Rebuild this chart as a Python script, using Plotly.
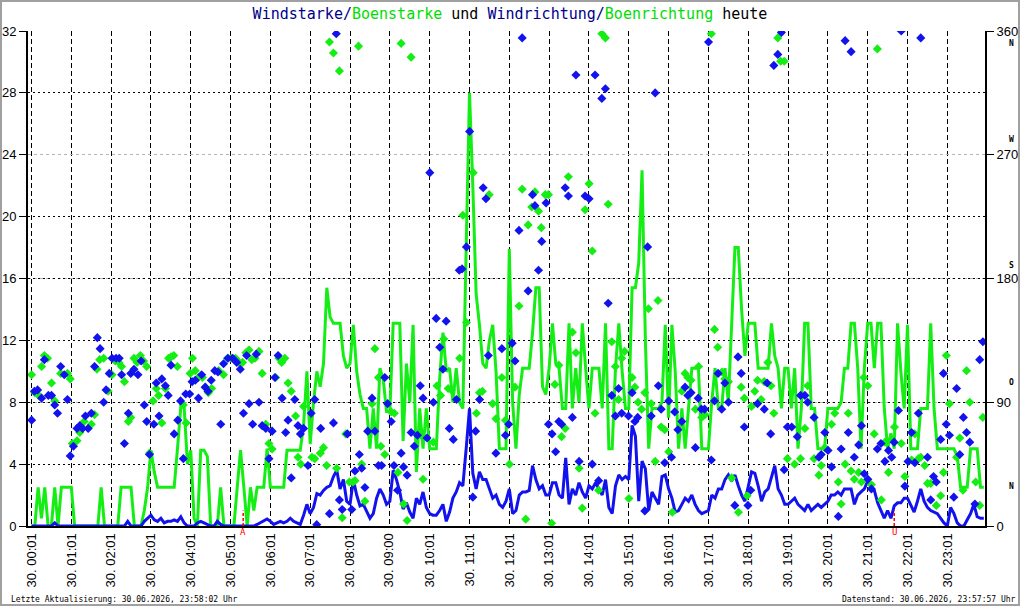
import plotly.graph_objects as go

# ---------------- data ----------------
day_label = "30."
tick_hhmm = ["00:01", "01:01", "02:01", "03:01", "04:01", "05:01", "06:01", "07:01",
             "08:01", "09:00", "10:01", "11:01", "12:01", "13:01", "14:01", "15:01",
             "16:01", "17:01", "18:01", "19:01", "20:01", "21:01", "22:01", "23:01"]
sunrise = "05:20"
sunset = "21:41"

# gust speed (m/s), 5-minute samples, one row per hour (hh:01, hh:06, ...)
gust_rows = [
    [0, 0, 2.5, 0.5, 2.5, 0, 0, 2.5, 0, 2.5, 2.5, 2.5],
    [2.5, 0, 0, 0, 0, 0, 0, 0, 0, 2.5, 0, 0],
    [0, 0, 0, 2.5, 2.5, 2.5, 2.5, 0, 0, 0, 1, 2.5],
    [4.9, 3.5, 2.5, 2.5, 2.5, 2.5, 2.5, 2.5, 5, 7.7, 7.7, 4],
    [4.9, 0.5, 0, 4.9, 4.9, 4.5, 0, 0, 0, 2.5, 0, 0],
    [0, 0, 2.5, 4.9, 2.5, 0, 2.5, 1, 2.5, 2.5, 2.5, 5.0],
    [2.5, 2.5, 2.5, 2.5, 2.5, 4.9, 4.9, 4.9, 4.9, 4.9, 6.5, 10],
    [5.3, 8, 10, 9, 10.5, 15.4, 13.5, 13.1, 13.1, 13.1, 11, 10.2],
    [10.5, 13, 10, 8.5, 7.6, 7.6, 5, 7.6, 5, 10.2, 9.5, 7.4],
    [7.4, 13.1, 13.1, 13.1, 5.5, 10.5, 8, 13, 3.5, 7.6, 5, 7.6],
    [5, 5, 5, 9.5, 12.5, 10, 10.2, 8, 10.2, 8, 7.6, 18],
    [28, 22, 15, 13, 10.5, 10.2, 12, 13, 10, 5, 5, 5],
    [17.9, 8, 5, 8.5, 10.2, 10.2, 10.2, 12.5, 15.4, 15.4, 9, 8.5],
    [10.2, 13.1, 10.5, 10.2, 7.6, 7.6, 13.1, 7.6, 10.2, 8, 13.1, 10.2],
    [7.6, 10.2, 10.2, 10.2, 7.6, 13.1, 5, 5, 10.2, 13.1, 10, 7.6],
    [7.6, 15.4, 15.4, 17, 23, 12, 5, 7.6, 7.6, 7.6, 8, 13],
    [7, 13, 10, 5, 7.6, 5, 7.6, 10.2, 10.2, 10.2, 5, 5],
    [5, 8, 10.2, 7.6, 7.6, 10.2, 8, 13, 18, 18, 14, 11],
    [13.1, 13.1, 13.1, 10.2, 10.2, 10.2, 10.2, 13.1, 11, 10.2, 7.6, 10.2],
    [10.2, 7.6, 10.2, 5, 7.6, 13.1, 13.1, 7.6, 7.6, 5, 5, 5],
    [7.6, 7.6, 7.6, 7.6, 8, 10.2, 10.2, 13.1, 13.1, 10.2, 5, 10.2],
    [13.1, 13.1, 10.2, 13.1, 13.1, 7.6, 5, 6, 5, 13.1, 10, 7.6],
    [13, 5, 5, 5, 7.6, 7.6, 7.6, 13.1, 7.6, 5, 5, 5],
    [5, 5, 5, 4.5, 2.5, 2.5, 2.5, 5, 5, 5, 2.5, 2.5],
]

# wind speed (m/s), same sampling
speed_rows = [
    [0, 0, 0, 0, 0, 0, 0, 0.2, 0, 0, 0, 0],
    [0, 0, 0, 0, 0, 0, 0, 0, 0, 0, 0, 0],
    [0, 0, 0, 0, 0, 0.3, 0, 0, 0, 0, 0.3, 0.5],
    [0.7, 0.4, 0.3, 0.5, 0.2, 0.3, 0.3, 0.4, 0.3, 0.6, 0.2, 0],
    [0, 0, 0.2, 0.3, 0.2, 0.1, 0, 0, 0.3, 0.1, 0, 0],
    [0, 0, 0, 0, 0, 0, 0, 0, 0.1, 0.2, 0.3, 0.45],
    [0.3, 0.1, 0.2, 0.3, 0.2, 0.3, 0.5, 0.3, 0.2, 0.1, 0.7, 1.4],
    [0.8, 1.2, 2.1, 2.0, 2.3, 2.5, 2.6, 3.2, 3.6, 2.4, 3.0, 1.6],
    [1.4, 3.0, 2.0, 1.3, 1.4, 1.0, 0.5, 0.8, 1.8, 2.4, 2.0, 1.4],
    [1.6, 3.6, 3.0, 2.2, 1.1, 1.5, 0.9, 0.5, 1.8, 1.4, 2.2, 1.2],
    [0.8, 0.7, 0.7, 1.0, 1.4, 0.3, 0.9, 1.8, 2.2, 2.8, 2.6, 5.0],
    [7.6, 3.4, 2.4, 3.5, 3.0, 3.0, 2.4, 1.8, 2.0, 1.4, 1.2, 1.6],
    [2.4, 0.8, 1.0, 2.0, 2.2, 2.2, 2.3, 3.9, 3.0, 2.4, 2.6, 2.0],
    [2.0, 2.8, 2.8, 2.0, 1.8, 4.4, 1.4, 2.4, 2.0, 2.8, 2.2, 1.8],
    [2.6, 2.4, 2.8, 2.4, 2.0, 3.0, 1.2, 0.8, 2.6, 3.3, 3.0, 3.2],
    [3.0, 6.5, 5.8, 1.6, 4.2, 3.7, 1.0, 2.2, 1.8, 1.4, 3.2, 3.3],
    [2.4, 1.8, 0.9, 1.0, 1.4, 1.8, 1.6, 2.0, 1.4, 1.0, 0.8, 0.9],
    [1.0, 2.0, 1.8, 2.4, 2.4, 3.0, 3.3, 2.9, 3.3, 2.6, 2.0, 1.6],
    [2.6, 3.5, 3.4, 2.6, 1.6, 2.2, 2.4, 3.2, 3.9, 2.4, 2.0, 1.4],
    [1.4, 1.6, 1.8, 1.4, 1.2, 1.0, 1.4, 1.0, 1.2, 1.4, 1.2, 1.4],
    [1.6, 2.0, 2.0, 2.2, 2.0, 2.4, 2.4, 2.4, 1.4, 2.0, 2.2, 2.4],
    [2.9, 2.6, 2.3, 1.5, 1.0, 0.5, 1.0, 0.5, 1.3, 1.5, 1.5, 1.8],
    [1.8, 1.4, 0.9, 1.6, 2.4, 1.6, 1.2, 1.0, 0.9, 0.8, 0.5, 0.2],
    [0, 1.2, 0.8, 0.2, 0, 0, 0.4, 0.8, 1.4, 0.6, 0.5, 0.5],
]

# wind direction (degrees) at time (decimal hours)
wind_dir_time = [
    0.02, 0.09, 0.17, 0.27, 0.34, 0.44, 0.52, 0.60, 0.67, 0.75, 0.84, 0.92, 0.99, 1.07, 1.16, 1.23,
    1.30, 1.37, 1.44, 1.52, 1.60, 1.67, 1.74, 1.83, 1.89, 1.97, 2.04, 2.14, 2.22, 2.28, 2.35, 2.45,
    2.51, 2.59, 2.69, 2.77, 2.85, 2.91, 2.98, 3.09, 3.15, 3.22, 3.29, 3.38, 3.45, 3.52, 3.60, 3.69,
    3.76, 3.83, 3.89, 3.99, 4.05, 4.13, 4.21, 4.29, 4.38, 4.45, 4.53, 4.62, 4.70, 4.77, 4.84, 4.95,
    5.07, 5.17, 5.26, 5.34, 5.42, 5.48, 5.57, 5.66, 5.73, 5.81,
    5.90, 5.98, 6.06, 6.13, 6.21, 6.31, 6.40, 6.46, 6.54, 6.63, 6.71, 6.77, 6.85, 6.96, 7.04, 7.13,
    7.18, 7.28, 7.50, 7.60, 7.67, 7.75, 7.82, 7.95, 8.06, 8.14, 8.25, 8.31, 8.39, 8.46, 8.57, 8.64,
    8.73, 8.81, 8.89, 8.96, 9.05, 9.12, 9.21, 9.30, 9.36, 9.45, 9.55, 9.63, 9.71, 9.78, 9.85, 9.95,
    10.02, 10.11, 10.18, 10.27, 10.35, 10.43, 10.51, 10.61, 10.69, 10.76, 10.83, 10.94, 11.02, 11.10,
    11.17, 11.27, 11.36, 11.43, 11.49, 11.68, 11.83,
    11.92, 12.00, 12.09, 12.16, 12.26, 12.34, 12.49, 12.60, 12.66, 12.75, 12.83, 12.94, 13.00, 13.09,
    13.18, 13.26, 13.33, 13.42, 13.50, 13.60, 13.69, 13.77, 13.92, 14.02, 14.10, 14.17, 14.26, 14.34,
    14.43, 14.50, 14.59, 14.68, 14.76, 14.84, 15.01, 15.10, 15.17, 15.24, 15.42, 15.49, 15.58, 15.68,
    15.76, 15.83, 15.92, 16.02, 16.09, 16.17, 16.25, 16.35, 16.43, 16.50, 16.58, 16.69, 16.76, 16.84,
    16.92, 17.02, 17.09, 17.17, 17.26, 17.35, 17.43, 17.52, 17.68, 17.76, 17.84, 17.92, 18.01,
    18.08, 18.25, 18.42, 18.49, 18.58, 18.66, 18.76, 18.85, 18.92, 19.00, 19.11, 19.25, 19.33, 19.44,
    19.51, 19.67, 19.79, 19.85, 19.94, 20.02, 20.11, 20.28, 20.35, 20.45, 20.53, 20.60, 20.68, 20.79,
    20.86, 20.93, 21.02, 21.11, 21.26, 21.35, 21.45, 21.54, 21.62, 21.68, 21.79, 21.86, 21.95, 22.03,
    22.12, 22.20, 22.29, 22.35, 22.52, 22.60, 22.67, 22.74, 22.85, 22.92, 22.99, 23.07, 23.18, 23.25,
    23.33, 23.42, 23.50, 23.58, 23.71, 23.83, 23.91,
]
wind_dir_deg = [
    77, 98, 99, 93, 121, 95, 95, 88, 82, 116, 110, 92, 51, 58, 71, 73,
    71, 80, 71, 82, 116, 137, 129, 90, 99, 111, 122, 122, 122, 110, 60, 82,
    111, 114, 110, 120, 88, 76, 52, 74, 104, 80, 107, 102, 95, 117, 67, 77,
    91, 49, 96, 96, 105, 106, 93, 110, 101, 98, 106, 113, 112, 74, 118, 122,
    122, 119, 114, 82, 124, 89, 74, 125, 90, 73,
    71, 49, 69, 108, 124, 93, 68, 77, 35, 92, 73, 67, 71, 44, 82, 92,
    1, 71, 9, 75, 358, 19, 12, 67, 12, 40, 52, 42, 28, 69, 93, 69,
    44, 44, 108, 89, 76, 44, 26, 53, 43, 37, 68, 58, 66, 102, 93, 64,
    257, 90, 151, 130, 114, 149, 71, 63, 92, 186, 187, 203, 287, 21,
    69, 92, 246, 238, 124, 53, 129,
    66, 74, 133, 120, 215, 355, 171, 241, 233, 186, 207, 235, 74, 67,
    54, 76, 74, 246, 240, 79, 328, 47, 240, 238, 45, 328, 33, 311,
    318, 162, 95, 80, 100, 82, 80, 97, 76, 79, 11, 203, 80, 315,
    102, 85, 46, 91, 50, 83, 70, 76, 101, 95, 97, 57, 93, 85,
    85, 352, 48, 91, 111, 85, 104, 90, 15, 123, 111, 72, 15,
    26, 89, 85, 104, 67, 335, 343, 359, 41, 72, 72, 65, 95, 95,
    90, 79, 50, 52, 68, 55, 43, 7, 56, 353, 68, 345, 50, 59,
    73, 38, 34, 27, 56, 60, 47, 55, 50, 61, 84, 360, 29, 47,
    68, 46, 82, 355, 50, 19, 36, 32, 63, 111, 74, 66, 21, 100,
    52, 79, 68, 61, 16, 121, 134,
]

# gust direction (degrees) at time (decimal hours)
gust_dir_time = [
    0.02, 0.10, 0.20, 0.27, 0.34, 0.42, 0.52, 0.60, 0.75, 0.92, 0.99, 1.04, 1.16, 1.23, 1.34, 1.52,
    1.60, 1.66, 1.73, 1.83, 1.94, 2.04, 2.12, 2.21, 2.28, 2.35, 2.45, 2.51, 2.59, 2.67, 2.75, 2.83,
    2.91, 2.98, 3.07, 3.15, 3.21, 3.29, 3.38, 3.46, 3.52, 3.59, 3.68, 3.83, 3.90, 4.00, 4.06, 4.13,
    4.21, 4.31, 4.38, 4.46, 4.54, 4.72, 4.84, 4.94, 5.03, 5.14, 5.23, 5.32, 5.40, 5.48, 5.55, 5.63,
    5.73, 5.81,
    5.90, 5.98, 6.06, 6.15, 6.23, 6.30, 6.38, 6.46, 6.54, 6.65, 6.71, 6.78, 6.85, 7.06, 7.13, 7.27,
    7.35, 7.43, 7.50, 7.60, 7.68, 7.75, 7.82, 7.91, 8.00, 8.09, 8.14, 8.23, 8.31, 8.39, 8.57, 8.64,
    8.73, 8.79, 8.89, 9.05, 9.13, 9.22, 9.30, 9.36, 9.45, 9.55, 9.71, 9.80, 9.85, 10.11, 10.20, 10.29,
    10.37, 10.48, 10.56, 10.77, 10.85, 10.94, 11.11, 11.19, 11.27, 11.34, 11.51, 11.60, 11.68, 11.83,
    11.92, 12.02, 12.16, 12.26, 12.34, 12.43, 12.49, 12.58, 12.66, 12.75, 12.82, 12.92, 13.00, 13.08,
    13.16, 13.26, 13.33, 13.42, 13.50, 13.60, 13.69, 13.77, 13.85, 13.92, 14.02, 14.10, 14.17, 14.26,
    14.34, 14.43, 14.50, 14.59, 14.68, 14.76, 14.84, 14.91, 15.02, 15.10, 15.17, 15.25, 15.34, 15.42,
    15.51, 15.58, 15.68, 15.75, 15.83, 15.92, 16.02, 16.11, 16.35, 16.43, 16.50, 16.58, 16.69, 16.77,
    16.85, 16.93, 17.09, 17.17, 17.25, 17.36, 17.43, 17.52, 17.60, 17.77, 17.84, 17.92,
    17.99, 18.10, 18.18, 18.25, 18.34, 18.42, 18.51, 18.59, 18.66, 18.76, 18.83, 18.92, 19.00, 19.18,
    19.33, 19.44, 19.51, 19.67, 19.79, 19.85, 19.94, 20.11, 20.19, 20.28, 20.35, 20.45, 20.53, 20.60,
    20.68, 20.79, 20.86, 20.92, 21.02, 21.11, 21.18, 21.26, 21.36, 21.45, 21.54, 21.69, 21.86, 21.95,
    22.12, 22.20, 22.29, 22.35, 22.45, 22.52, 22.60, 22.74, 22.85, 22.92, 22.99, 23.07, 23.25, 23.33,
    23.41, 23.50, 23.58, 23.73, 23.83, 23.91,
]
gust_dir_deg = [
    110, 97, 95, 116, 124, 122, 104, 91, 111, 111, 107, 60, 62, 68, 76, 74,
    81, 114, 121, 122, 98, 110, 120, 119, 116, 105, 76, 79, 122, 119, 124, 120,
    116, 53, 91, 100, 95, 75, 100, 122, 123, 124, 116, 88, 75, 111, 122, 113,
    108, 108, 101, 97, 100, 113, 110, 122, 122, 122, 119, 119, 126, 128, 121, 122,
    127, 111,
    74, 60, 56, 108, 122, 119, 122, 104, 98, 80, 50, 45, 87, 50, 49, 53,
    57, 44, 352, 344, 42, 331, 6, 67, 32, 32, 33, 349, 45, 18, 89, 129,
    108, 58, 52, 83, 82, 39, 351, 16, 4, 341, 67, 66, 34, 61, 102, 95,
    136, 100, 99, 122, 226, 148, 257, 82, 97, 98, 241, 89, 78, 108,
    77, 45, 101, 160, 245, 5, 219, 232, 243, 229, 217, 241, 241, 2,
    103, 117, 65, 71, 254, 141, 126, 42, 13, 230, 249, 200, 82, 26,
    358, 355, 234, 134, 116, 92, 122, 127, 20, 108, 101, 90, 85, 97,
    158, 89, 47, 164, 72, 70, 54, 10, 98, 111, 108, 106, 85, 116,
    79, 81, 358, 143, 130, 112, 107, 105, 35, 10, 101, 93,
    22, 87, 98, 106, 92, 105, 119, 102, 82, 355, 338, 338, 49, 45,
    49, 71, 102, 49, 37, 44, 57, 74, 82, 32, 16, 45, 82, 40,
    34, 39, 32, 108, 102, 30, 67, 347, 19, 61, 39, 72, 60, 36,
    48, 67, 49, 50, 44, 31, 31, 15, 22, 39, 124, 89, 50, 64,
    26, 113, 90, 32, 15, 79,
]

speed_ticks = [0, 4, 8, 12, 16, 20, 24, 28, 32]
speed_grid = [4, 8, 12, 16, 20, 28, 32]
dir_ticks = [0, 90, 180, 270, 360]

# ---------------- derived ----------------
def hhmm_to_h(s):
    h, m = s.split(":")
    return int(h) + int(m) / 60.0

t_line = [h + (5 * j + 1) / 60.0 for h, row in enumerate(gust_rows) for j in range(len(row))]
gust = [v for row in gust_rows for v in row]
speed = [v for row in speed_rows for v in row]
tick_vals = [hhmm_to_h(s) for s in tick_hhmm]
tick_text = [f"{day_label} {s}" for s in tick_hhmm]
t_rise = hhmm_to_h(sunrise)
t_set = hhmm_to_h(sunset)

BLUE = "#1212ee"
GREEN = "#14ee14"
NAVY = "#00008b"
TGREEN = "#00dd00"
TICKFONT = dict(family="Liberation Sans, Arial, sans-serif", size=13, color="black")

fig = go.Figure()
fig.add_trace(go.Scatter(x=t_line, y=gust, mode="lines", line=dict(color=GREEN, width=3),
                         hoverinfo="skip", showlegend=False))
fig.add_trace(go.Scatter(x=t_line, y=speed, mode="lines", line=dict(color=BLUE, width=3),
                         hoverinfo="skip", showlegend=False))
for t in (t_rise, t_set):
    fig.add_trace(go.Scatter(x=[t, t], y=[0, 1.0], mode="lines",
                             line=dict(color="red", width=1.5, dash="3px,2px"),
                             hoverinfo="skip", showlegend=False))
fig.add_trace(go.Scatter(x=gust_dir_time, y=gust_dir_deg, mode="markers", yaxis="y2",
                         marker=dict(symbol="diamond", size=7, color=GREEN, line=dict(width=0)),
                         hoverinfo="skip", showlegend=False))
fig.add_trace(go.Scatter(x=wind_dir_time, y=wind_dir_deg, mode="markers", yaxis="y2",
                         marker=dict(symbol="diamond", size=7, color=BLUE, line=dict(width=0)),
                         hoverinfo="skip", showlegend=False))
fig.add_trace(go.Scatter(x=[None], y=[None], yaxis="y3", mode="markers",
                         hoverinfo="skip", showlegend=False))

title_html = (f"<span style='color:{NAVY}'>Windstarke/</span>"
              f"<span style='color:{TGREEN}'>Boenstarke</span>"
              f"<span style='color:black'> und </span>"
              f"<span style='color:{NAVY}'>Windrichtung/</span>"
              f"<span style='color:{TGREEN}'>Boenrichtung</span>"
              f"<span style='color:black'> heute</span>")

annotations = [
    dict(text="Letzte Aktualisierung: 30.06.2026, 23:58:02 Uhr", xref="paper", yref="paper",
         x=-0.0199, y=-0.1485, xanchor="left", yanchor="middle", showarrow=False,
         font=dict(family="DejaVu Sans Mono", size=8, color="black")),
    dict(text="Datenstand: 30.06.2026, 23:57:57 Uhr", xref="paper", yref="paper",
         x=1.0345, y=-0.1485, xanchor="right", yanchor="middle", showarrow=False,
         font=dict(family="DejaVu Sans Mono", size=8, color="black")),
    dict(text="A", xref="x", yref="paper", x=t_rise, y=-0.012, xanchor="center", yanchor="middle",
         showarrow=False, font=dict(family="DejaVu Sans Mono", size=9, color="red")),
    dict(text="U", xref="x", yref="paper", x=t_set, y=-0.012, xanchor="center", yanchor="middle",
         showarrow=False, font=dict(family="DejaVu Sans Mono", size=9, color="red")),
]
for letter, yp in [("N", 0.974), ("W", 0.780), ("S", 0.527), ("O", 0.289), ("N", 0.079)]:
    annotations.append(dict(text=f"<b>{letter}</b>", xref="paper", yref="paper", x=1.0277, y=yp,
                            xanchor="center", yanchor="middle", showarrow=False,
                            font=dict(family="DejaVu Sans Mono", size=8, color="black")))

fig.update_layout(
    width=1020, height=606,
    margin=dict(l=28, r=35, t=31, b=80, pad=0, autoexpand=False),
    paper_bgcolor="white", plot_bgcolor="white",
    showlegend=False,
    title=dict(text=title_html, x=0.5, xref="container", xanchor="center",
               y=1 - 13.5 / 606, yref="container", yanchor="middle",
               font=dict(family="DejaVu Sans Mono", size=15)),
    xaxis=dict(range=[-0.071, 23.963], tickmode="array", tickvals=tick_vals, ticktext=tick_text,
               tickangle=-90, tickfont=TICKFONT, ticks="", showgrid=True, gridcolor="black",
               gridwidth=1, griddash="5px,3px", showline=True, linecolor="black", linewidth=2,
               zeroline=False, automargin=False),
    yaxis=dict(range=[0, 32], tickmode="array", tickvals=speed_ticks, tickfont=TICKFONT,
               ticks="outside", ticklen=7, tickcolor="black", tickwidth=1, showgrid=False,
               showline=True, linecolor="black", linewidth=2, zeroline=False, automargin=False),
    yaxis3=dict(range=[0, 32], overlaying="y", tickmode="array", tickvals=speed_grid,
                showticklabels=False, ticks="", showgrid=True, gridcolor="black", gridwidth=1,
                griddash="2px,3px", showline=False, zeroline=False, automargin=False),
    yaxis2=dict(range=[0, 360], overlaying="y", side="right", tickmode="array", tickvals=dir_ticks,
                tickfont=TICKFONT, ticks="outside", ticklen=7, tickcolor="black", tickwidth=1,
                showgrid=True, gridcolor="#b4b4b4", gridwidth=1, griddash="3px,3px",
                showline=True, linecolor="black", linewidth=2, zeroline=False, automargin=False),
    annotations=annotations,
    shapes=[dict(type="rect", xref="paper", yref="paper", x0=-0.02821, x1=1.03553,
                 y0=-0.1596, y1=1.0606, line=dict(color="#a0a0a0", width=2),
                 fillcolor="rgba(0,0,0,0)", layer="above")],
)

fig.write_html("out.html")
